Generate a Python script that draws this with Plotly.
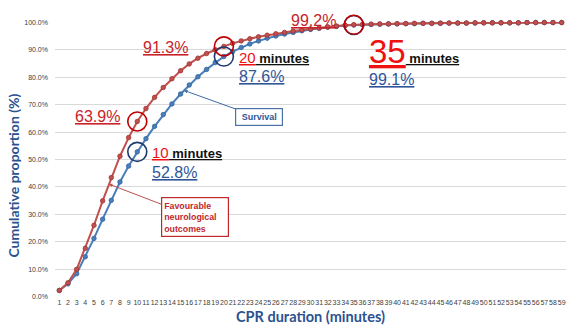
import numpy as np
import plotly.graph_objects as go

# CPR duration in minutes (x categories)
minutes = list(range(1, 60))

# Cumulative proportion (%) of patients with favourable neurological outcomes
favourable = [
    2.2, 5.0, 9.9, 17.6, 26.0, 34.9, 43.4, 51.2, 58.0, 63.9,
    68.6, 72.7, 76.3, 79.5, 82.4, 84.9, 87.0, 88.7, 90.1, 91.3,
    92.4, 93.3, 94.1, 94.8, 95.4, 95.9, 96.4, 96.9, 97.3, 97.7,
    98.0, 98.4, 98.7, 99.0, 99.2, 99.3, 99.4, 99.5, 99.5, 99.6,
    99.6, 99.7, 99.7, 99.7, 99.8, 99.8, 99.8, 99.8, 99.9, 99.9,
    99.9, 99.9, 99.9, 99.9, 100.0, 100.0, 100.0, 100.0, 100.0,
]

# Cumulative proportion (%) of surviving patients
survival = [
    2.2, 4.6, 8.3, 14.5, 21.2, 28.2, 35.1, 41.8, 47.6, 52.8,
    57.6, 62.1, 66.4, 70.3, 73.9, 77.2, 80.2, 82.9, 85.4, 87.6,
    89.4, 90.9, 92.2, 93.3, 94.3, 95.1, 95.8, 96.4, 97.0, 97.5,
    97.9, 98.3, 98.6, 98.9, 99.1, 99.2, 99.3, 99.4, 99.5, 99.5,
    99.6, 99.6, 99.7, 99.7, 99.7, 99.8, 99.8, 99.8, 99.8, 99.9,
    99.9, 99.9, 99.9, 99.9, 100.0, 100.0, 100.0, 100.0, 100.0,
]

# Y axis ticks
y_ticks = [i / 10 for i in range(11)]

# Highlighted time points (minutes)
highlight = [10, 20, 35]

fav = np.array(favourable) / 100.0
surv = np.array(survival) / 100.0

X_RANGE = [0.5, 59.5]
Y_RANGE = [-0.002, 1.002]


def to_paper_x(v):
    return (v - X_RANGE[0]) / (X_RANGE[1] - X_RANGE[0])


def to_paper_y(v):
    return (v - Y_RANGE[0]) / (Y_RANGE[1] - Y_RANGE[0])


RED_LINE = "#C0504D"
RED_EDGE = "#9E3532"
BLUE_LINE = "#4A7EBB"
BLUE_EDGE = "#33649E"
RED_TXT = "#C8232A"
BRIGHT_RED = "#EE1111"
BLUE_TXT = "#2F5597"
TITLE_BLUE = "#2A5290"

fig = go.Figure()

fig.add_trace(go.Scatter(
    x=minutes, y=surv, mode="lines+markers", name="Survival",
    line=dict(color=BLUE_LINE, width=2),
    marker=dict(size=4.5, color=BLUE_LINE, line=dict(color=BLUE_EDGE, width=0.8)),
    cliponaxis=False,
))
fig.add_trace(go.Scatter(
    x=minutes, y=fav, mode="lines+markers", name="Favourable neurological outcomes",
    line=dict(color=RED_LINE, width=2),
    marker=dict(size=4.5, color=RED_LINE, line=dict(color=RED_EDGE, width=0.8)),
    cliponaxis=False,
))

# Circles around the highlighted points (paper refs so they are not clipped at 100 %)
shapes = []
for m in highlight:
    i = minutes.index(m)
    for val, col in ((surv[i], "#1F3A6E"), (fav[i], "#C00000")):
        shapes.append(dict(
            type="circle", xref="paper", yref="paper", xsizemode="pixel", ysizemode="pixel",
            xanchor=to_paper_x(m), yanchor=to_paper_y(val), x0=-9.5, x1=9.5, y0=-9.5, y1=9.5,
            line=dict(color=col, width=1.6), fillcolor="rgba(0,0,0,0)",
        ))


def pct(v):
    return f"{v:.1f}%"


def minutes_label(m, size):
    return (f"<span style='color:{BRIGHT_RED};font-size:{size}px'><u>{m}</u></span>"
            f"<u><b> minutes</b></u>")


i10, i20, i35 = (minutes.index(m) for m in highlight)
pct_font = dict(family="Liberation Sans, Arial", size=16)
lbl_font = dict(family="Liberation Sans, Arial", size=13, color="#111111")

annotations = [
    # 10 minutes
    dict(x=5.35, y=0.656, text=f"<u>{pct(favourable[i10])}</u>",
         font=dict(pct_font, color=RED_TXT), showarrow=False),
    dict(x=11.45, y=0.524, xanchor="left", text=minutes_label(10, 15),
         font=lbl_font, showarrow=False),
    dict(x=11.45, y=0.454, xanchor="left", text=f"<u>{pct(survival[i10])}</u>",
         font=dict(pct_font, color=BLUE_TXT), showarrow=False),
    # 20 minutes
    dict(x=13.26, y=0.908, text=f"<u>{pct(favourable[i20])}</u>",
         font=dict(pct_font, color=RED_TXT), showarrow=False),
    dict(x=21.5, y=0.872, xanchor="left", text=minutes_label(20, 15),
         font=lbl_font, showarrow=False),
    dict(x=21.5, y=0.802, xanchor="left", text=f"<u>{pct(survival[i20])}</u>",
         font=dict(pct_font, color=BLUE_TXT), showarrow=False),
    # 35 minutes
    dict(x=to_paper_x(30.35), y=to_paper_y(1.046), xref="paper", yref="paper",
         text=f"<u>{pct(favourable[i35])}</u>",
         font=dict(pct_font, color=RED_TXT), showarrow=False),
    dict(x=36.5, y=0.895, xanchor="left", text=minutes_label(35, 33),
         font=lbl_font, showarrow=False),
    dict(x=36.5, y=0.791, xanchor="left", text=f"<u>{pct(survival[i35])}</u>",
         font=dict(pct_font, color=BLUE_TXT), showarrow=False),
    # Y axis title, placed as text so it can sit slightly below the middle
    dict(x=-0.083, y=0.44, xref="paper", yref="paper", textangle=-90,
         xanchor="center", yanchor="middle",
         text="<b>Cumulative proportion (%)</b>", showarrow=False,
         font=dict(family="Lato", size=14, color=TITLE_BLUE)),
]

# Callout boxes pointing at each curve
x_surv_tip = 15.4
x_fav_tip = 6.72
annotations.append(dict(
    x=x_surv_tip, y=float(np.interp(x_surv_tip, minutes, surv)),
    text="<b>Survival</b>", showarrow=True, ax=75, ay=27,
    arrowhead=2, arrowsize=0.7, arrowwidth=1, arrowcolor="#3C6AA6",
    font=dict(family="Liberation Sans, Arial", size=9, color=BLUE_TXT),
    bordercolor="#4A74A8", borderwidth=1.2, borderpad=2, bgcolor="white",
    width=42, height=12,
))
annotations.append(dict(
    x=x_fav_tip, y=float(np.interp(x_fav_tip, minutes, fav)),
    text="<b>Favourable<br>neurological<br>outcomes</b>", showarrow=True, ax=86, ay=33,
    arrowhead=2, arrowsize=0.7, arrowwidth=1, arrowcolor="#C0504D",
    font=dict(family="Liberation Sans, Arial", size=8.8, color="#C0282D"),
    bordercolor="#C0282D", borderwidth=1.2, borderpad=2, bgcolor="white",
    align="left", width=62, height=34,
))

fig.update_layout(
    width=570, height=335,
    margin=dict(l=55, r=4, t=22, b=38),
    paper_bgcolor="white", plot_bgcolor="white",
    showlegend=False,
    shapes=shapes,
    annotations=annotations,
    xaxis=dict(
        range=X_RANGE, tickmode="array", tickvals=minutes,
        ticktext=[str(m) for m in minutes], tickangle=0,
        tickfont=dict(family="Liberation Sans, Arial", size=7, color="#404040"),
        showgrid=False, zeroline=False, showline=False, ticks="",
        title=dict(text="<b>CPR duration (minutes)</b>", standoff=6,
                   font=dict(family="Lato", size=14.5, color=TITLE_BLUE)),
    ),
    yaxis=dict(
        range=Y_RANGE, tickvals=y_ticks, tickformat=".1%",
        tickfont=dict(family="Liberation Sans, Arial", size=7, color="#404040"),
        showgrid=True, gridcolor="#D9D9D9", gridwidth=1,
        zeroline=False, showline=False, ticks="", ticklabelstandoff=6,
    ),
)

fig.write_html("out.html")
